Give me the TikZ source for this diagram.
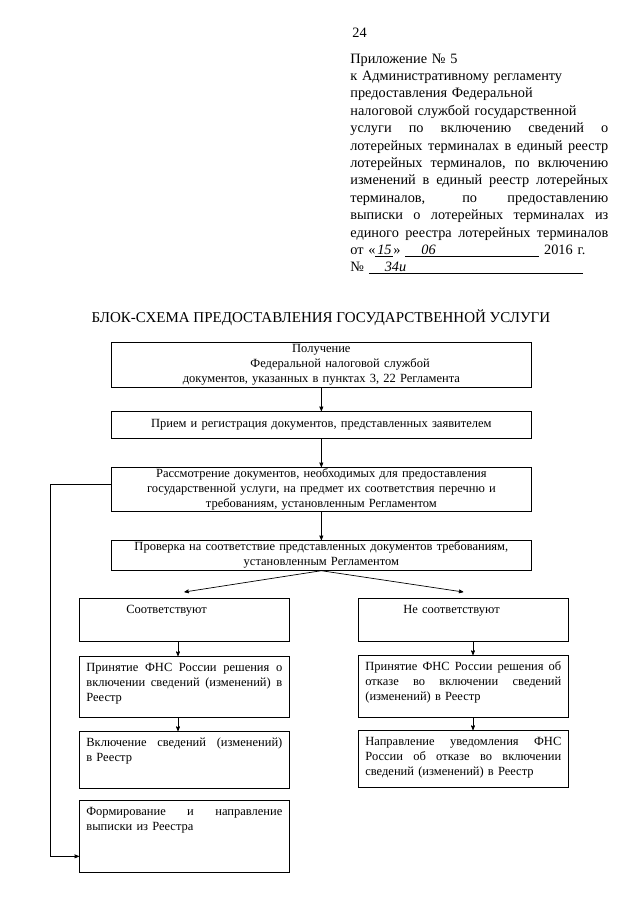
\documentclass[tikz,border=0pt]{standalone}
\usepackage{fontspec}
\setmainfont{Liberation Serif}
\usepackage{tikz}
\usetikzlibrary{arrows}

\newcommand{\fillline}[1]{\makebox[\linewidth][s]{\spaceskip=0.25em plus 1fil\relax #1}}

\begin{document}
\begin{tikzpicture}[->,>=stealth',line width=0.7pt,x=1pt,y=-1pt]

    \tikzstyle{every node}=[inner sep=0pt,text=black]
    \tikzstyle{wide}=[draw=black,anchor=north west,minimum width=420pt,text width=406pt,align=center,font=\fontsize{12.5}{15}\selectfont]
    \tikzstyle{half}=[draw=black,anchor=north west,minimum width=210pt,text width=196pt,align=left,inner ysep=5pt,text height=10pt,font=\fontsize{12.5}{15}\selectfont]

    \path[fill=white] (0,0) rectangle (640,905);
    \useasboundingbox (0,0) rectangle (640,905);

    \coordinate (lcol) at (178,0);
    \coordinate (rcol) at (473,0);
    \coordinate (back) at (50,0);

    \node[anchor=base west,font=\fontsize{14.3}{17.4}\selectfont] (page) at (352,37) {24};
    \node[anchor=base west,text width=258pt,align=left,font=\fontsize{14.3}{17.4}\selectfont] (annex) at (350,63) {Приложение № 5\\
                         к Административному регламенту\\
                         предоставления Федеральной\\
                         налоговой службой государственной\\
                         \fillline{услуги по включению сведений о}\\
                         \fillline{лотерейных терминалах в единый реестр}\\
                         \fillline{лотерейных терминалов, по включению}\\
                         \fillline{изменений в единый реестр лотерейных}\\
                         \fillline{терминалов, по предоставлению}\\
                         \fillline{выписки о лотерейных терминалах из}\\
                         \fillline{единого реестра лотерейных терминалов}\\
                         от «\underline{\makebox[18pt]{\itshape 15}}» \underline{\makebox[134pt][l]{\hspace{16pt}\itshape 06}} 2016 г.\\
                         № \underline{\makebox[214pt][l]{\hspace{16pt}\itshape 34и}}
    };

    \node[anchor=base,font=\fontsize{15}{18}\selectfont] (title) at (321,322) {БЛОК-СХЕМА ПРЕДОСТАВЛЕНИЯ ГОСУДАРСТВЕННОЙ УСЛУГИ};

    \node[wide,minimum height=45pt] (get) at (111,342) {Получение\\
                         \hspace*{3em}Федеральной налоговой службой\\
                         документов, указанных в пунктах 3, 22 Регламента};
    \node[wide,minimum height=27pt] (reg) at (111,411) {Прием и регистрация документов, представленных заявителем};
    \node[wide,minimum height=44pt] (exam) at (111,467) {Рассмотрение документов, необходимых для предоставления\\
                         государственной услуги, на предмет их соответствия перечню и\\
                         требованиям, установленным Регламентом};
    \node[wide,minimum height=30pt] (check) at (111,540) {Проверка на соответствие представленных документов требованиям,\\
                         установленным Регламентом};

    \node[half,text depth=23pt] (okay) at (79,598) {\hspace*{40pt}Соответствуют};
    \node[half,text depth=23pt] (fail) at (358,598) {\hspace*{38pt}Не соответствуют};

    \node[half,text depth=41pt] (grant) at (79,656) {\fillline{Принятие ФНС России решения о}\\
                         \fillline{включении сведений (изменений) в}\\
                         Реестр};
    \node[half,text depth=42pt] (refuse) at (358,655) {\fillline{Принятие ФНС России решения об}\\
                         \fillline{отказе во включении сведений}\\
                         (изменений) в Реестр};

    \node[half,text depth=37pt] (enter) at (79,731) {\fillline{Включение сведений (изменений)}\\
                         в Реестр};
    \node[half,text depth=37pt] (notify) at (358,730) {\fillline{Направление уведомления ФНС}\\
                         \fillline{России об отказе во включении}\\
                         сведений (изменений) в Реестр};

    \node[half,text depth=52pt] (extract) at (79,800) {\fillline{Формирование и направление}\\
                         выписки из Реестра};

    \path (get) edge (reg)
          (reg) edge (exam)
          (exam) edge (check)
          (check.south) edge ([yshift=6pt]okay.north)
          (check.south) edge ([yshift=6pt]fail.north)
          (okay.south -| lcol) edge (grant.north -| lcol)
          (grant.south -| lcol) edge (enter.north -| lcol)
          (fail.south -| rcol) edge (refuse.north -| rcol)
          (refuse.south -| rcol) edge (notify.north -| rcol)
    ;

    \draw ([yshift=5pt]exam.west) -- ([yshift=5pt]exam.west -| back) |- ([yshift=-20pt]extract.west);
\end{tikzpicture}
\end{document}
